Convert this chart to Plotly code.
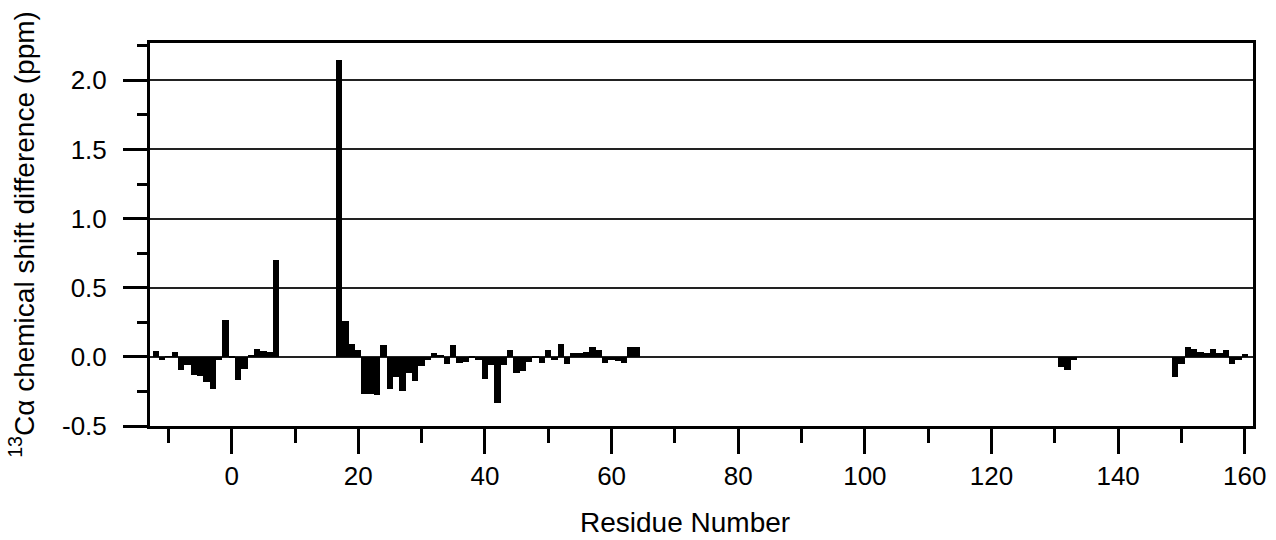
import plotly.graph_objects as go

residues = list(range(-12, 8)) + list(range(17, 65)) + [131, 132, 133] + list(range(149, 161))
shift_diff = [
    # -12 .. 7
    0.045, -0.025, 0.005, 0.035, -0.095, -0.06, -0.13, -0.14, -0.18, -0.23,
    -0.02, 0.27, -0.01, -0.17, -0.09, 0.01, 0.055, 0.045, 0.035, 0.70,
    # 17 .. 64
    2.15, 0.26, 0.095, 0.05, -0.27, -0.265, -0.275, 0.085, -0.23, -0.145,
    -0.25, -0.115, -0.175, -0.065, -0.025, 0.025, 0.015, -0.05, 0.085, -0.045,
    -0.035, -0.01, -0.025, -0.16, -0.06, -0.335, -0.06, 0.05, -0.12, -0.105,
    -0.035, -0.01, -0.045, 0.05, -0.025, 0.09, -0.055, 0.025, 0.025, 0.035,
    0.07, 0.05, -0.045, -0.025, -0.03, -0.045, 0.07, 0.07,
    # 131 .. 133
    -0.07, -0.095, -0.025,
    # 149 .. 160
    -0.145, -0.05, 0.075, 0.06, 0.035, 0.03, 0.06, 0.03, 0.05, -0.05, -0.02, 0.02,
]

x_ticks = [0, 20, 40, 60, 80, 100, 120, 140, 160]
y_ticks = [-0.5, 0.0, 0.5, 1.0, 1.5, 2.0]
y_tick_labels = ["-0.5", "0.0", "0.5", "1.0", "1.5", "2.0"]
x_title = "Residue Number"
y_title = "<sup>13</sup>C\u03b1 chemical shift difference (ppm)"

FONT = "Liberation Sans, Arial, sans-serif"

fig = go.Figure(
    go.Bar(
        x=residues,
        y=shift_diff,
        width=1.0,
        marker=dict(color="black", line=dict(width=0)),
    )
)

fig.update_layout(
    width=1276,
    height=540,
    paper_bgcolor="white",
    plot_bgcolor="white",
    margin=dict(l=150, r=23, t=43, b=114, autoexpand=False),
    bargap=0,
    showlegend=False,
    font=dict(family=FONT, size=26, color="black"),
)

fig.update_xaxes(
    range=[-12.9, 161.3],
    tickmode="array",
    tickvals=x_ticks,
    ticktext=[str(v) for v in x_ticks],
    ticks="outside",
    ticklen=25,
    tickwidth=3,
    tickcolor="black",
    showline=True,
    linewidth=3,
    linecolor="black",
    mirror=True,
    showgrid=False,
    zeroline=False,
    automargin=False,
    tickfont=dict(family=FONT, size=26, color="black"),
    minor=dict(dtick=10, tick0=0, ticks="outside", ticklen=14, tickwidth=3,
               tickcolor="black", showgrid=False),
)

fig.update_yaxes(
    range=[-0.5, 2.27],
    tickmode="array",
    tickvals=y_ticks,
    ticktext=y_tick_labels,
    ticks="outside",
    ticklen=24,
    tickwidth=3,
    tickcolor="black",
    showline=True,
    linewidth=3,
    linecolor="black",
    mirror=True,
    showgrid=True,
    gridcolor="#222222",
    gridwidth=1.5,
    zeroline=False,
    automargin=False,
    ticklabelstandoff=11,
    tickfont=dict(family=FONT, size=26, color="black"),
    minor=dict(dtick=0.25, tick0=0, ticks="outside", ticklen=10, tickwidth=3,
               tickcolor="black", showgrid=False),
    title=dict(text=y_title, font=dict(family=FONT, size=28, color="black"), standoff=20),
)

fig.add_annotation(
    text=x_title,
    xref="paper", yref="paper",
    x=0.5, y=0,
    xanchor="center", yanchor="top",
    xshift=-17, yshift=-79,
    showarrow=False,
    font=dict(family=FONT, size=28, color="black"),
)

fig.write_html(
    "out.html",
    config={"displayModeBar": False},
    post_script="document.body.style.margin='0';document.body.style.overflow='hidden';",
)
